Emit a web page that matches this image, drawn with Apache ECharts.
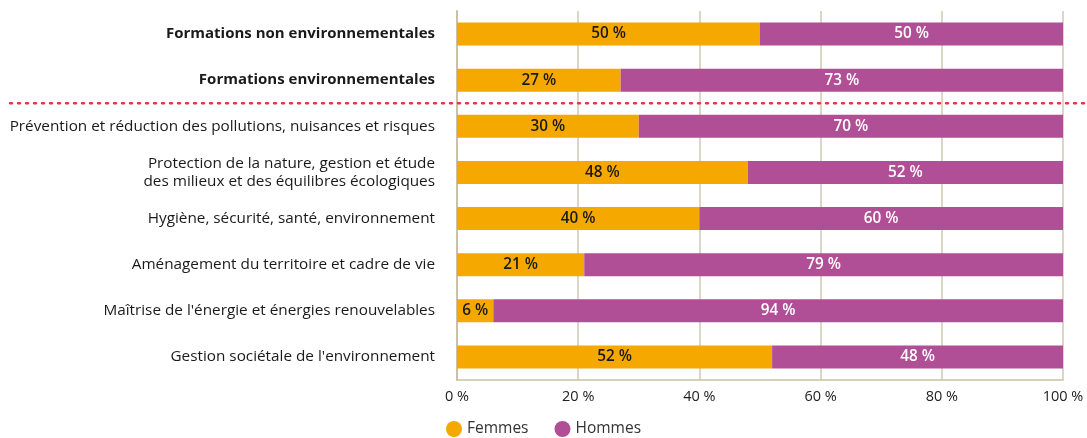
<!DOCTYPE html>
<html><head><meta charset="utf-8">
<script src="https://cdn.jsdelivr.net/npm/echarts@6/dist/echarts.min.js"></script>
<style>html,body{margin:0;padding:0;background:#fff}#c{width:1087px;height:438px}</style>
</head><body><div id="c"></div>
<script>
const categories = [
  "Formations non environnementales",
  "Formations environnementales",
  "Prévention et réduction des pollutions, nuisances et risques",
  "Protection de la nature, gestion et étude\ndes milieux et des équilibres écologiques",
  "Hygiène, sécurité, santé, environnement",
  "Aménagement du territoire et cadre de vie",
  "Maîtrise de l'énergie et énergies renouvelables",
  "Gestion sociétale de l'environnement"
];
const femmes = [50, 27, 30, 48, 40, 21, 6, 52];
const hommes = [50, 73, 70, 52, 60, 79, 94, 48];
const boldCount = 2;

const font = "'Open Sans', 'Noto Sans', sans-serif";
const chart = echarts.init(document.getElementById('c'));
chart.setOption({
  animation: false,
  textStyle: { fontFamily: font },
  grid: { left: 457, right: 24, top: 11, bottom: 58 },
  legend: {
    left: 441, top: 416, itemWidth: 16, itemHeight: 16, itemGap: 26,
    icon: 'circle',
    textStyle: { fontSize: 15.5, color: '#333', fontFamily: font },
    data: ['Femmes', 'Hommes']
  },
  xAxis: {
    type: 'value', min: 0, max: 100, interval: 20,
    axisLine: { show: true, lineStyle: { color: '#c9c2a5', width: 1.5 } },
    axisTick: { show: false },
    splitLine: { lineStyle: { color: '#cfc9b2', width: 1.5 } },
    axisLabel: { formatter: '{value} %', fontSize: 14.5, color: '#222', margin: 9, fontFamily: font }
  },
  yAxis: {
    type: 'category', inverse: true, data: categories,
    axisLine: { show: true, lineStyle: { color: '#c9c2a5', width: 2 } },
    axisTick: { show: false },
    axisLabel: {
      fontSize: 15.3, color: '#1a1a1a', margin: 22, lineHeight: 18, fontFamily: font,
      formatter: (v, i) => i < boldCount ? '{b|' + v + '}' : v,
      rich: { b: { fontWeight: 'bold', fontSize: 15, color: '#1a1a1a', fontFamily: font } }
    }
  },
  series: [
    { name: 'Femmes', type: 'bar', stack: 't', data: femmes, barWidth: 23,
      itemStyle: { color: '#f5a800' },
      label: { show: true, position: 'inside', formatter: '{c} %', color: '#1a1a1a', fontWeight: 600, fontSize: 15.3, fontFamily: font } },
    { name: 'Hommes', type: 'bar', stack: 't', data: hommes, barWidth: 23,
      itemStyle: { color: '#b04f95' },
      label: { show: true, position: 'inside', formatter: '{c} %', color: '#fff', fontWeight: 600, fontSize: 15.3, fontFamily: font } }
  ]
});
const y1 = chart.convertToPixel({ yAxisIndex: 0 }, categories[1]);
const y2 = chart.convertToPixel({ yAxisIndex: 0 }, categories[2]);
const ySep = (y1 + y2) / 2;
chart.setOption({
  graphic: [{
    type: 'line', z: 100,
    shape: { x1: 10, y1: ySep, x2: 1087, y2: ySep },
    style: { stroke: '#e8344e', lineWidth: 2.5, lineDash: [2, 6], lineCap: 'round' }
  }]
});
</script></body></html>
